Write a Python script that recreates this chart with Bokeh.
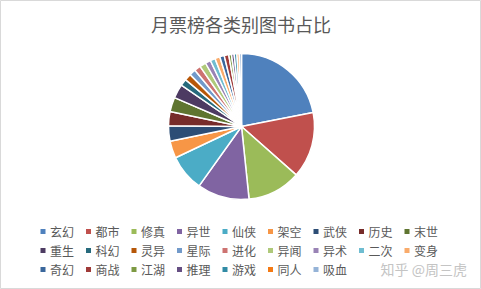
import numpy as np
from bokeh.plotting import figure
from bokeh.models import ColumnDataSource, Range1d
from bokeh.core.properties import value
from bokeh.embed import file_html
from bokeh.resources import INLINE

# ---- data (share of books per category, %) ----
categories = ["玄幻", "都市", "修真", "异世", "仙侠", "架空", "武侠", "历史", "末世",
              "重生", "科幻", "灵异", "星际", "进化", "异闻", "异术", "二次", "变身",
              "奇幻", "商战", "江湖", "推理", "游戏", "同人", "吸血"]
shares = [21.9, 14.6, 11.8, 11.5, 8.1, 3.8, 3.4, 3.1, 3.2,
          3.1, 1.5, 1.5, 1.4, 1.4, 1.4, 1.2, 1.1, 1.1,
          1.0, 1.0, 0.6, 0.6, 0.6, 0.5, 0.5]
colors = ["#4F81BD", "#C0504D", "#9BBB59", "#8064A2", "#4BACC6", "#F79646",
          "#2C4D75", "#772C2A", "#5F7530", "#4D3B62", "#276A7C", "#B65708",
          "#729ACA", "#CD7371", "#AFC97A", "#9983B5", "#6FBDD1", "#F9AB6B",
          "#3A679C", "#9F3A38", "#7D9A43", "#664F83", "#318BA5", "#F47A14",
          "#95B3D7"]
title_text = "月票榜各类别图书占比"
watermark = "知乎 @周三虎"

W, H = 481, 289
FONT = "Noto Sans CJK SC"

vals = np.array(shares, dtype=float)
frac = vals / vals.sum()
cum = np.concatenate([[0.0], np.cumsum(frac)])
start = np.pi / 2 - 2 * np.pi * cum[:-1]
end = np.pi / 2 - 2 * np.pi * cum[1:]

cx, cy, r = 241, H - 126, 73

src = ColumnDataSource(dict(cat=categories, start=start, end=end, color=colors))

p = figure(width=W, height=H, x_range=Range1d(0, W), y_range=Range1d(0, H),
           output_backend="svg", toolbar_location=None,
           x_axis_type=None, y_axis_type=None, min_border=0)
p.grid.visible = False
p.background_fill_color = "white"
p.border_fill_color = "white"
p.outline_line_color = "#d9d9d9"
p.outline_line_width = 1

p.wedge(x=cx, y=cy, radius=r, start_angle="start", end_angle="end",
        direction="clock", fill_color="color", line_color="white",
        line_width=1.5, source=src)

# title
p.text(x=[W / 2], y=[H - 23], text=[title_text], text_font=value(FONT),
       text_font_size="18px", text_color="#595959", text_align="center",
       text_baseline="middle")

# legend (manual grid, 9 per row)
ncol = 9
col_x0, col_dx = 42.5, 45.5
row_y = [231, 250, 269]
idx = np.arange(len(categories))
lx = col_x0 + col_dx * (idx % ncol)
ly = np.array([H - row_y[i // ncol] for i in idx])
leg = ColumnDataSource(dict(x=lx, y=ly, tx=lx + 7, cat=categories, color=colors))
p.scatter(x="x", y="y", marker="square", size=5, fill_color="color",
          line_color=None, source=leg)
p.text(x="tx", y="y", text="cat", text_font=value(FONT), text_font_size="12px",
       text_color="#595959", text_align="left", text_baseline="middle", source=leg)

# watermark
p.text(x=[380], y=[H - 268], text=[watermark], text_font=value(FONT),
       text_font_size="14px", text_color="#c4c4c4", text_align="left",
       text_baseline="middle")

open("out.html", "w").write(file_html(p, INLINE))
